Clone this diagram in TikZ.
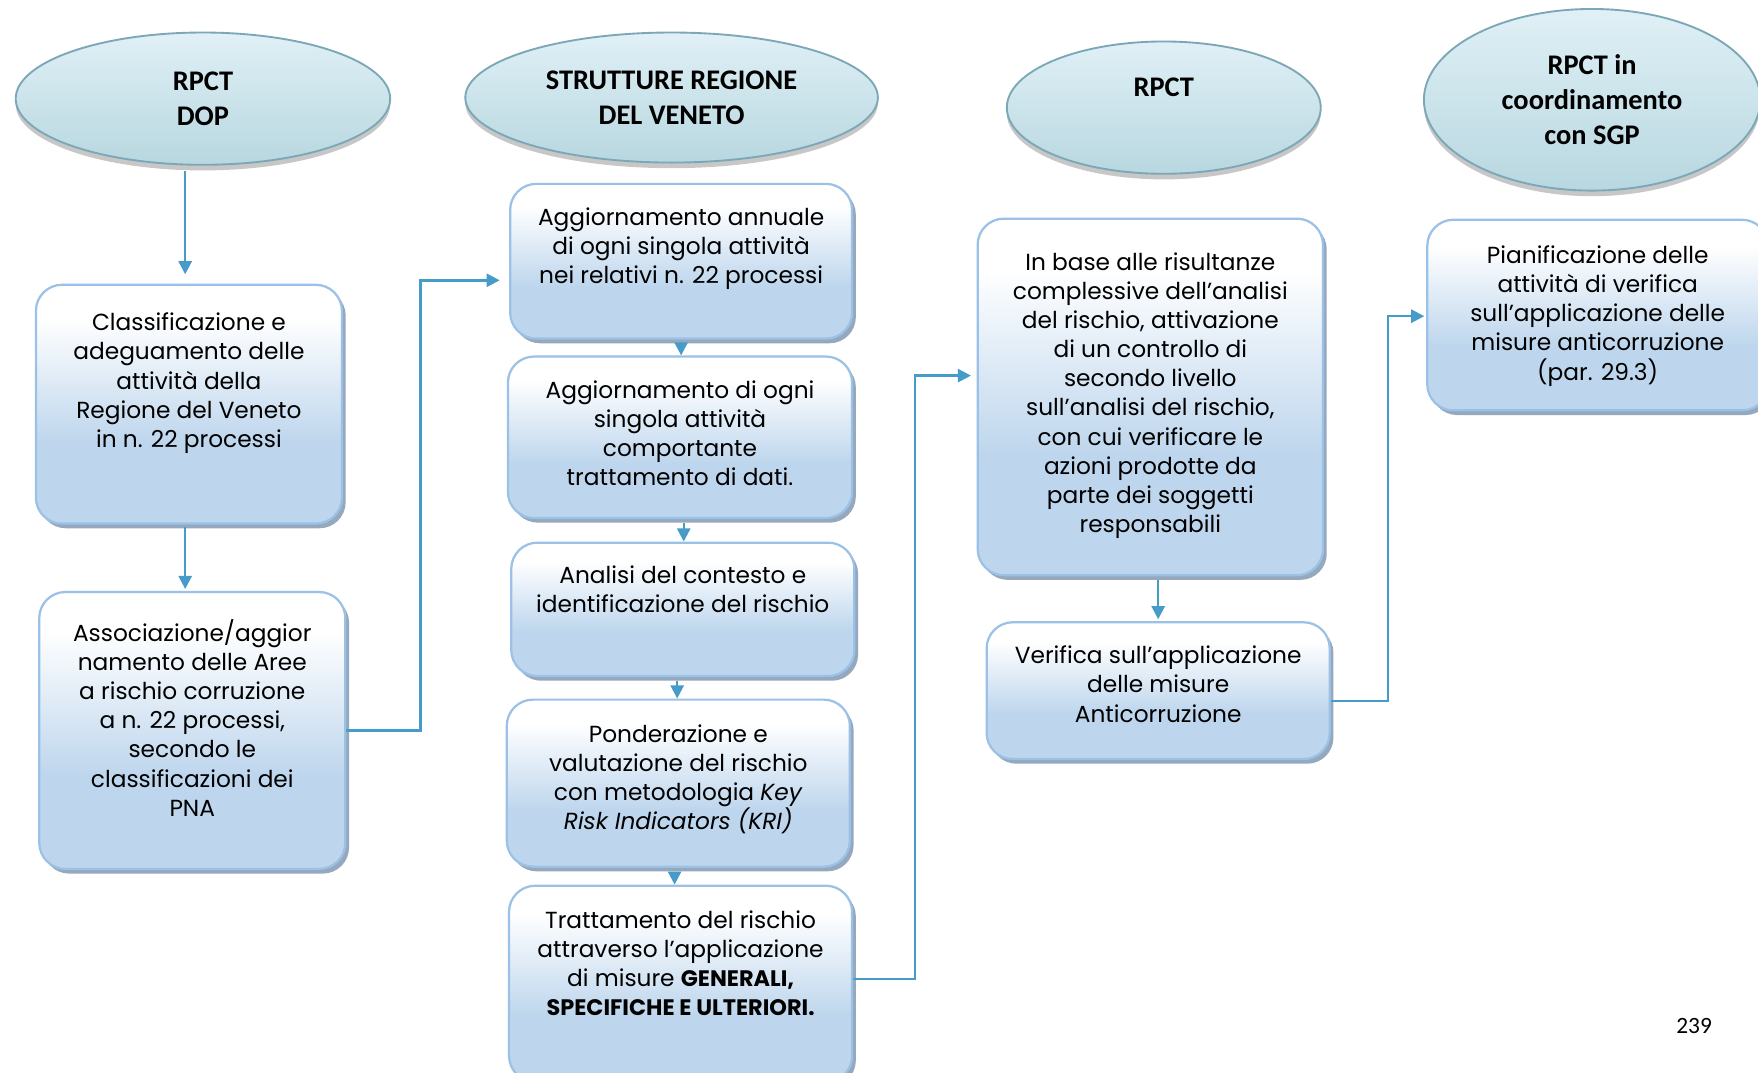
\documentclass[tikz,border=0pt]{standalone}
\usepackage{fontspec}
\setmainfont{Poppins}
\newfontfamily\titlefont{Carlito}
\usetikzlibrary{shapes.geometric,shadows,arrows.meta}
\definecolor{arrowc}{HTML}{469BC8}
\definecolor{boxborder}{HTML}{9BC2E6}
\definecolor{boxbot}{HTML}{BED6ED}
\definecolor{shadowc}{HTML}{8A9FB8}
\definecolor{elltop}{HTML}{E0F0F6}
\definecolor{ellbot}{HTML}{B8D7E0}
\definecolor{ellborder}{HTML}{7BA7B6}
\pgfdeclareverticalshading{boxshade}{100bp}{color(0bp)=(boxbot); color(25bp)=(boxbot); color(42bp)=(boxbot); color(68bp)=(white); color(75bp)=(white); color(100bp)=(white)}
\newcommand\pxl[1]{\dimexpr #1pt*6/10\relax}
\newcommand\boxtext[4]{\parbox[c][\pxl{#2}][t]{\pxl{#1}}{\centering\rule{0pt}{\pxl{#3}}#4\par}}
\newcommand\bfx[1]{{\fontsize{12}{15.6}\selectfont\bfseries #1}}
\begin{document}
\begin{tikzpicture}[x=0.6pt,y=-0.6pt,
  box/.style={draw=boxborder, line width=1.2pt, rounded corners=14pt, shade, shading=boxshade, inner sep=0pt,
    drop shadow={shadow xshift=2pt, shadow yshift=-2.5pt, fill=shadowc, opacity=0.9},
    font=\fontsize{12.45}{15.6}\selectfont},
  ell/.style={ellipse, draw=ellborder, line width=1pt, top color=elltop, bottom color=ellbot, inner sep=0pt,
    align=center, font=\titlefont\bfseries\fontsize{15.2}{18.6}\selectfont,
    drop shadow={shadow xshift=0pt, shadow yshift=-3pt, fill=black, opacity=0.22}},
  arr/.style={draw=arrowc, line width=1.3pt, -{Triangle[length=7pt,width=7pt]}}
]
\useasboundingbox (0,0) rectangle (1568,957);
\clip (0,0) rectangle (1568,957);
\fill[white] (0,0) rectangle (1568,957);

% ellipses
\node[ell, minimum width=200.4pt, minimum height=70.8pt] (e1) at (181,88) {RPCT\\DOP};
\node[ell, minimum width=220.8pt, minimum height=69.6pt] (e2) at (599,87) {STRUTTURE REGIONE\\DEL VENETO};
\node[ell, minimum width=168pt, minimum height=70.8pt] (e3) at (1038,96) {\raisebox{21.6pt}{RPCT}};
\node[ell, minimum width=180pt, minimum height=97.2pt] (e4) at (1420,89) {RPCT in\\coordinamento\\con SGP};

% column 1
\node[box] (b1) at (168.5,360.5) {\boxtext{273}{213}{41}{Classificazione e\\adeguamento delle\\attività della\\Regione del Veneto\\in n. 22 processi}};
\node[box] (b2) at (171.5,651.5) {\boxtext{273}{247}{44}{Associazione/aggior\\namento delle Aree\\a rischio corruzione\\a n. 22 processi,\\secondo le\\classificazioni dei\\PNA}};

% column 2
\node[box] (c1) at (607.5,233) {\boxtext{305}{138}{37}{Aggiornamento annuale\\di ogni singola attività\\nei relativi n. 22 processi}};
\node[box] (c2) at (606.5,390) {\boxtext{307}{144}{37}{Aggiornamento di ogni\\singola attività\\comportante\\trattamento di dati.}};
\node[box] (c3) at (609,543.5) {\boxtext{306}{119}{36}{Analisi del contesto e\\identificazione del rischio}};
\node[box] (c4) at (605,698.5) {\boxtext{306}{149}{38}{Ponderazione e\\valutazione del rischio\\con metodologia \textit{Key}\\\textit{Risk Indicators (KRI)}}};
\node[box] (c5) at (607,877.5) {\boxtext{306}{175}{38}{Trattamento del rischio\\attraverso l’applicazione\\di misure \bfx{GENERALI,}\\\bfx{SPECIFICHE E ULTERIORI.}}};

% column 3
\node[box] (d1) at (1026,354) {\boxtext{308}{318}{46}{In base alle risultanze\\complessive dell’analisi\\del rischio, attivazione\\di un controllo di\\secondo livello\\sull’analisi del rischio,\\con cui verificare le\\azioni prodotte da\\parte dei soggetti\\responsabili}};
\node[box] (d2) at (1033,616) {\boxtext{306}{122}{37}{Verifica sull’applicazione\\delle misure\\Anticorruzione}};

% column 4
\node[box] (f1) at (1425,281) {\boxtext{304}{170}{39}{Pianificazione delle\\attività di verifica\\sull’applicazione delle\\misure anticorruzione\\(par. 29.3)}};

% page number
\node[font=\titlefont\fontsize{12.5}{14}\selectfont] (pg) at (1511,915) {239};

% connectors
\coordinate (j1) at (375,250);
\coordinate (j2) at (816,335);
\coordinate (j3) at (1238,282);

\draw[arr, shorten <=3pt, shorten >=5pt] ([xshift=-2pt]e1.south -| b1.north) -- ([xshift=-2pt]b1.north);
\draw[arr, shorten <=1pt, shorten >=1pt] ([xshift=-2pt]b1.south) -- ([xshift=-2pt]b1.south |- b2.north);
\draw[arr, shorten >=5pt] (b2.east) -| (j1) -- (j1 -| c1.west);

\draw[arr, shorten <=2pt] (c1.south) -- (c1.south |- c2.north);
\draw[arr, shorten <=2pt] ([xshift=2pt]c2.south) -- ([xshift=2pt]c2.south |- c3.north);
\draw[arr, shorten <=2pt] ([xshift=-3pt]c3.south) -- ([xshift=-3pt]c3.south |- c4.north);
\draw[arr, shorten <=2pt] ([xshift=-2pt]c4.south) -- ([xshift=-2pt]c4.south |- c5.north);

\draw[arr, shorten >=3pt] ([yshift=2.5pt]c5.east) -| (j2) -- (j2 -| d1.west);
\draw[arr, shorten <=2pt, shorten >=1pt] (d1.south -| d2.north) -- (d2.north);
\draw[arr, shorten >=1pt] ([yshift=-5.4pt]d2.east) -| (j3) -- (j3 -| f1.west);
\end{tikzpicture}
\end{document}
